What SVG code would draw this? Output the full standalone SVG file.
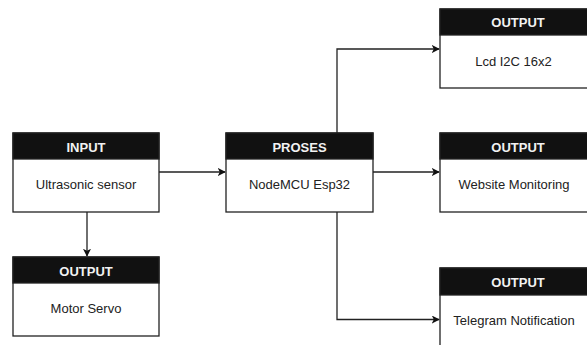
<svg xmlns="http://www.w3.org/2000/svg" width="587" height="345" viewBox="0 0 587 345">
<defs>
<style>
.box{fill:#fff;stroke:#222;stroke-width:1.3}
.hdr{fill:#111;stroke:#222;stroke-width:1.3}
.ht{font-family:"Liberation Sans",Arial,sans-serif;font-size:13px;font-weight:bold;fill:#f2f2f2;text-anchor:middle}
.bt{font-family:"Liberation Sans",Arial,sans-serif;font-size:13px;fill:#222;text-anchor:middle}
.ln{fill:none;stroke:#222;stroke-width:1.3}
</style>
<marker id="ah" viewBox="0 0 10 10" refX="9" refY="5" markerWidth="8" markerHeight="8" markerUnits="userSpaceOnUse" orient="auto">
<path d="M0,0 L10,5 L0,10 L2.5,5 Z" fill="#111"/>
</marker>
</defs>
<rect width="587" height="345" fill="#fff"/>
<g id="connectors">
<path class="ln" d="M159,172 H225" marker-end="url(#ah)"/>
<path class="ln" d="M87,212 V256" marker-end="url(#ah)"/>
<path class="ln" d="M337,133 V49 H439" marker-end="url(#ah)"/>
<path class="ln" d="M373,172 H439" marker-end="url(#ah)"/>
<path class="ln" d="M337,212 V319.5 H439" marker-end="url(#ah)"/>
</g>
<g id="input">
<rect class="box" x="13" y="133" width="146" height="79"/>
<rect class="hdr" x="13" y="133" width="146" height="26"/>
<text class="ht" x="86" y="151.5">INPUT</text>
<text class="bt" x="86" y="188.5">Ultrasonic sensor</text>
</g>
<g id="proses">
<rect class="box" x="226" y="133" width="147" height="79"/>
<rect class="hdr" x="226" y="133" width="147" height="26"/>
<text class="ht" x="299.5" y="151.5">PROSES</text>
<text class="bt" x="299.5" y="188.5">NodeMCU Esp32</text>
</g>
<g id="motor">
<rect class="box" x="13" y="257" width="146" height="79"/>
<rect class="hdr" x="13" y="257" width="146" height="26"/>
<text class="ht" x="86" y="275.5">OUTPUT</text>
<text class="bt" x="86" y="312.5">Motor Servo</text>
</g>
<g id="lcd">
<rect class="box" x="440" y="9" width="148" height="79"/>
<rect class="hdr" x="440" y="9" width="148" height="26"/>
<text class="ht" x="518" y="26.5">OUTPUT</text>
<text class="bt" x="513.5" y="65.5">Lcd I2C 16x2</text>
</g>
<g id="website">
<rect class="box" x="440" y="133" width="148" height="79"/>
<rect class="hdr" x="440" y="133" width="148" height="26"/>
<text class="ht" x="518" y="151.5">OUTPUT</text>
<text class="bt" x="514" y="188.5">Website Monitoring</text>
</g>
<g id="telegram">
<rect class="box" x="440" y="268" width="148" height="90"/>
<rect class="hdr" x="440" y="268" width="148" height="27"/>
<text class="ht" x="518" y="286.5">OUTPUT</text>
<text class="bt" x="514" y="324.5">Telegram Notification</text>
</g>
</svg>
